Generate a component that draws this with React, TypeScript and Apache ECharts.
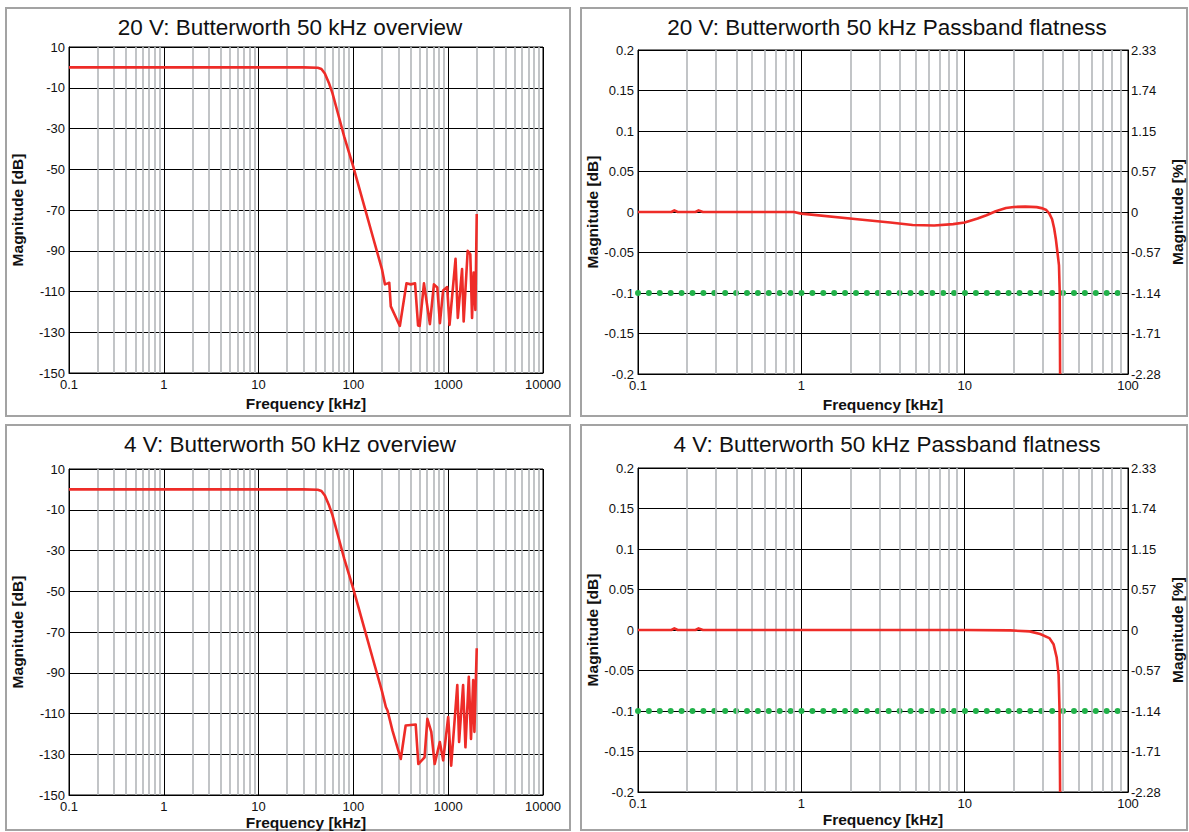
import React, { useEffect, useRef } from 'react';
import * as echarts from 'echarts';

const FONT = '"Liberation Sans", Arial, Helvetica, sans-serif';

// ---- data ----
// 20 V overview: frequency [kHz] / magnitude [dB]
const ov20Freq = [0.1, 1, 10, 30, 42, 46, 50, 55, 60, 70, 80, 100, 130, 160, 200, 215, 230, 239, 248, 309, 363, 403, 447, 481, 500, 555, 641, 707, 767, 818, 884, 975, 1033, 1195, 1263, 1400, 1456, 1605, 1711, 1785, 1855, 1936, 2000];
const ov20Mag = [0, 0, 0, 0, -0.2, -0.8, -3, -7.5, -12.5, -24, -34, -49, -68, -83, -99, -106.5, -106, -105.7, -117.3, -126.9, -106, -106.5, -106, -126.7, -126.9, -106, -126, -106.5, -108, -125.5, -109.5, -107.8, -126.4, -94, -123, -99, -124.7, -90, -91.7, -123, -100.7, -119, -72];

// 4 V overview
const ov4Freq = [0.1, 1, 10, 30, 42, 46, 50, 55, 60, 70, 80, 100, 130, 160, 200, 220, 229, 258, 316, 356, 454, 484, 563, 603, 663, 720, 816, 885, 1000, 1075, 1247, 1303, 1436, 1520, 1650, 1740, 1835, 1890, 2000];
const ov4Mag = [0, 0, 0, 0, -0.2, -0.8, -3, -7.5, -12.5, -24, -34, -49, -68, -83, -99, -106.8, -108.5, -118.3, -132.3, -115.9, -115.4, -134.8, -131.5, -112.6, -119, -134.8, -124, -133, -111.7, -135.6, -96, -124, -96, -126.6, -92, -122.5, -93.6, -119, -78];

// 20 V passband flatness
const fl20Freq = [0.1, 0.16, 0.167, 0.175, 0.225, 0.235, 0.25, 0.5, 0.9, 1, 2.2, 3.5, 4.8, 6.5, 8.5, 10, 12, 13.6, 15.5, 17.9, 20, 23.5, 27.6, 30, 31.6, 33, 34.3, 35.3, 36.2, 37, 37.8, 38.2, 38.4];
const fl20Mag = [0, 0, 0.002, 0, 0, 0.002, 0, 0, 0, -0.002, -0.009, -0.013, -0.016, -0.0166, -0.015, -0.013, -0.008, -0.004, 0.001, 0.005, 0.0062, 0.0066, 0.006, 0.0045, 0.0025, -0.002, -0.009, -0.02, -0.034, -0.05, -0.066, -0.1, -0.2];

// 4 V passband flatness
const fl4Freq = [0.1, 0.16, 0.167, 0.175, 0.225, 0.235, 0.25, 1, 10, 19, 25, 29, 33, 35, 36.6, 37.6, 38.1, 38.4];
const fl4Mag = [0, 0, 0.002, 0, 0, 0.002, 0, 0, 0, -0.0005, -0.0017, -0.005, -0.01, -0.0175, -0.034, -0.055, -0.1, -0.2];

// -0.1 dB limit line
const limitFreq = [0.1, 100];
const limitMag = [-0.1, -0.1];

// axis ranges / tick labels
const ovYMin = -150;
const ovYMax = 10;
const ovYStep = 20;
const flYMin = -0.2;
const flYMax = 0.2;
const flYStep = 0.05;
const pctTickLabels = ['-2.28', '-1.71', '-1.14', '-0.57', '0', '0.57', '1.15', '1.74', '2.33'];
const minorMult = [2, 3, 4, 5, 6, 7, 8, 9];
const ovDecades = [0.1, 1, 10, 100, 1000];
const flDecades = [0.1, 1, 10];

const titles = [
  '20 V: Butterworth 50 kHz overview',
  '20 V: Butterworth 50 kHz Passband flatness',
  '4 V: Butterworth 50 kHz overview',
  '4 V: Butterworth 50 kHz Passband flatness',
];

// ---- layout ----
const grids = [
  { left: 69, top: 47, width: 474, height: 326 },
  { left: 638, top: 50, width: 490, height: 324 },
  { left: 69, top: 469, width: 474, height: 326 },
  { left: 638, top: 468, width: 490, height: 324 },
];
const xNameGaps = [22, 22, 19, 19];
const panels = [
  { x: 6, y: 8, width: 564, height: 408 },
  { x: 581, y: 8, width: 606, height: 408 },
  { x: 6, y: 425, width: 564, height: 405 },
  { x: 581, y: 425, width: 606, height: 405 },
];
const titlePos = [
  { x: 290, y: 27 },
  { x: 887, y: 27 },
  { x: 290, y: 444 },
  { x: 887, y: 444 },
];

const RED = '#ee2c28';
const GREEN = '#22b24a';
const MINOR = '#b3b6b9';

function minorValues(decades: number[]) {
  const out: number[] = [];
  decades.forEach((d) => minorMult.forEach((m) => out.push(Number((d * m).toPrecision(3)))));
  return out;
}

function pairs(xs: number[], ys: number[]) {
  return xs.map((x, i) => [x, ys[i]]);
}

const nameStyle = { fontWeight: 'bold', fontSize: 15.5, color: '#111', fontFamily: FONT };
const labelStyle = { color: '#111', fontSize: 13, fontFamily: FONT };

function makeX(gridIndex: number, max: number) {
  return {
    type: 'log',
    logBase: 10,
    gridIndex,
    min: 0.1,
    max,
    name: 'Frequency [kHz]',
    nameLocation: 'middle',
    nameGap: xNameGaps[gridIndex],
    nameTextStyle: nameStyle,
    axisLine: { show: true, onZero: false, lineStyle: { color: '#000', width: 1 } },
    axisTick: { show: false },
    axisLabel: {
      ...labelStyle,
      margin: 5,
      formatter: (v: number) => String(Number(Number(v).toPrecision(4))),
    },
    splitLine: { show: true, lineStyle: { color: '#000', width: 1 } },
  };
}

function buildOption() {
  const xAxis = [makeX(0, 10000), makeX(1, 100), makeX(2, 10000), makeX(3, 100)];
  const yAxis: any[] = [];
  const series: any[] = [];

  const ovSets = [
    { g: 0, f: ov20Freq, m: ov20Mag },
    { g: 2, f: ov4Freq, m: ov4Mag },
  ];
  const flSets = [
    { g: 1, f: fl20Freq, m: fl20Mag },
    { g: 3, f: fl4Freq, m: fl4Mag },
  ];

  const yIndexForGrid: Record<number, number> = {};

  [0, 1, 2, 3].forEach((g) => {
    const isOv = g === 0 || g === 2;
    if (isOv) {
      // visible tick axis (offset so that ticks fall on -150, -130, ... 10)
      yAxis.push({
        type: 'value',
        gridIndex: g,
        position: 'left',
        min: 0,
        max: ovYMax - ovYMin,
        interval: ovYStep,
        name: 'Magnitude [dB]',
        nameLocation: 'middle',
        nameGap: 44,
        nameTextStyle: nameStyle,
        axisLine: { show: true, onZero: false, lineStyle: { color: '#000', width: 1 } },
        axisTick: { show: false },
        axisLabel: { ...labelStyle, margin: 4, formatter: (v: number) => String(Math.round(v + ovYMin)) },
        splitLine: { show: true, lineStyle: { color: '#000', width: 1 } },
      });
      // data axis
      yAxis.push({
        type: 'value',
        gridIndex: g,
        position: 'right',
        min: ovYMin,
        max: ovYMax,
        show: false,
        splitLine: { show: false },
      });
      yIndexForGrid[g] = yAxis.length - 1;
    } else {
      yAxis.push({
        type: 'value',
        gridIndex: g,
        position: 'left',
        min: flYMin,
        max: flYMax,
        interval: flYStep,
        name: 'Magnitude [dB]',
        nameLocation: 'middle',
        nameGap: 37,
        nameTextStyle: nameStyle,
        axisLine: { show: true, onZero: false, lineStyle: { color: '#000', width: 1 } },
        axisTick: { show: false },
        axisLabel: { ...labelStyle, margin: 4 },
        splitLine: { show: true, lineStyle: { color: '#000', width: 1 } },
      });
      yIndexForGrid[g] = yAxis.length - 1;
      yAxis.push({
        type: 'value',
        gridIndex: g,
        position: 'right',
        min: flYMin,
        max: flYMax,
        interval: flYStep,
        name: 'Magnitude [%]',
        nameLocation: 'middle',
        nameGap: 41,
        nameTextStyle: nameStyle,
        axisLine: { show: true, onZero: false, lineStyle: { color: '#000', width: 1 } },
        axisTick: { show: false },
        axisLabel: {
          ...labelStyle,
          margin: 3,
          formatter: (v: number) => pctTickLabels[Math.round((v - flYMin) / flYStep)] ?? '',
        },
        splitLine: { show: false },
      });
    }
  });

  // minor vertical grid lines (2..9 of each decade)
  [0, 1, 2, 3].forEach((g) => {
    const isOv = g === 0 || g === 2;
    series.push({
      type: 'line',
      xAxisIndex: g,
      yAxisIndex: yIndexForGrid[g],
      data: [],
      z: -1,
      silent: true,
      symbol: 'none',
      markLine: {
        silent: true,
        animation: false,
        symbol: ['none', 'none'],
        label: { show: false },
        lineStyle: { color: MINOR, width: 1.6, type: 'solid' },
        emphasis: { disabled: true },
        data: minorValues(isOv ? ovDecades : flDecades).map((v) => ({ xAxis: v })),
      },
    });
  });

  ovSets.forEach(({ g, f, m }) => {
    series.push({
      type: 'line',
      xAxisIndex: g,
      yAxisIndex: yIndexForGrid[g],
      data: pairs(f, m),
      symbol: 'none',
      z: 5,
      lineStyle: { color: RED, width: 2.6, join: 'round' },
      emphasis: { disabled: true },
    });
  });

  flSets.forEach(({ g, f, m }) => {
    series.push({
      type: 'line',
      xAxisIndex: g,
      yAxisIndex: yIndexForGrid[g],
      data: pairs(limitFreq, limitMag),
      symbol: 'none',
      z: 4,
      lineStyle: { color: GREEN, width: 6, type: [0, 10.9], cap: 'round' },
      emphasis: { disabled: true },
    });
    series.push({
      type: 'line',
      xAxisIndex: g,
      yAxisIndex: yIndexForGrid[g],
      data: pairs(f, m),
      symbol: 'none',
      z: 5,
      lineStyle: { color: RED, width: 2.6, join: 'round' },
      emphasis: { disabled: true },
    });
  });

  const graphic: any[] = [];
  panels.forEach((p) => {
    graphic.push({
      type: 'rect',
      shape: { x: p.x, y: p.y, width: p.width, height: p.height },
      style: { fill: 'none', stroke: '#a3a3a3', lineWidth: 2 },
      silent: true,
      z: -10,
    });
  });
  titles.forEach((t, i) => {
    graphic.push({
      type: 'text',
      x: titlePos[i].x,
      y: titlePos[i].y,
      style: {
        text: t,
        fill: '#111',
        font: `22.5px ${FONT}`,
        align: 'center',
        verticalAlign: 'middle',
      },
      silent: true,
    });
  });

  return {
    animation: false,
    backgroundColor: '#fff',
    grid: grids.map((g) => ({
      ...g,
      containLabel: false,
      show: true,
      borderColor: '#000',
      borderWidth: 1,
      backgroundColor: 'transparent',
    })),
    xAxis,
    yAxis,
    series,
    graphic,
  };
}

export default function App() {
  const ref = useRef<HTMLDivElement>(null);
  useEffect(() => {
    if (!ref.current) return;
    const chart = echarts.init(ref.current, undefined, { renderer: 'svg' });
    chart.setOption(buildOption() as any);
    return () => chart.dispose();
  }, []);
  return (
    <div
      ref={ref}
      style={{ position: 'absolute', left: 0, top: 0, width: 1189, height: 832, background: '#fff' }}
    />
  );
}
